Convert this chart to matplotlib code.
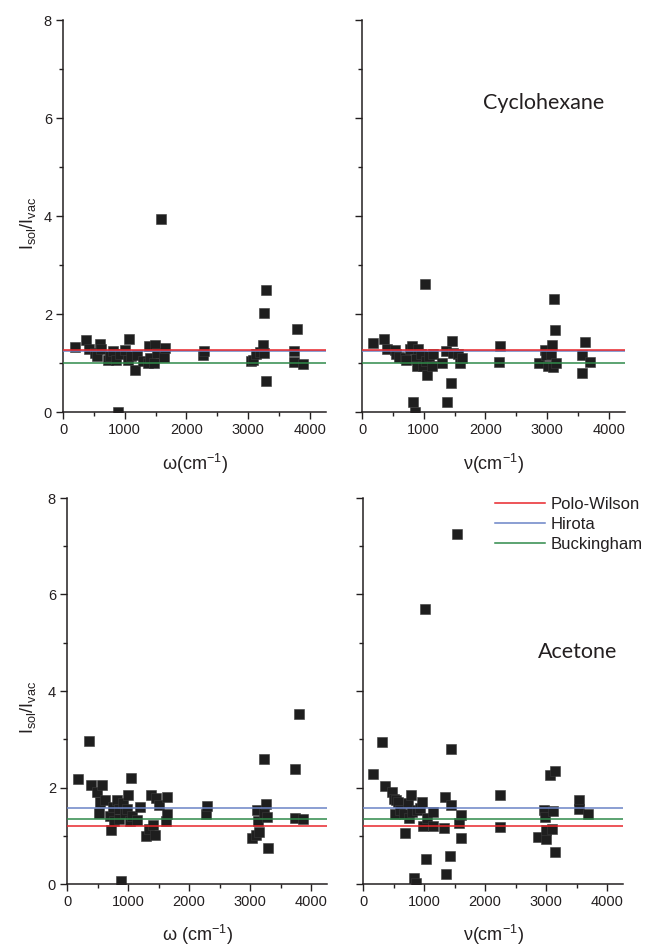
"""
Relative IR intensities (solution / vacuum) for cyclohexane and acetone,
compared with the Polo-Wilson, Hirota and Buckingham cavity-field models.
"""

import matplotlib
matplotlib.use("Agg")
import matplotlib.pyplot as plt
from matplotlib.lines import Line2D
from matplotlib.ticker import MultipleLocator

plt.rcParams.update({
    "font.family": ["Liberation Sans", "DejaVu Sans"],
    "mathtext.fontset": "custom",
    "mathtext.rm": "Liberation Sans",
    "mathtext.default": "regular",
    "text.color": "#231f20",
    "axes.edgecolor": "#231f20",
    "xtick.color": "#231f20",
    "ytick.color": "#231f20",
})

# ── data: cyclohexane, harmonic frequencies (omega) ──────────────────────
cyc_w_x = [190, 379, 421, 513, 557, 594, 622, 729, 756, 810,
           865, 891, 918, 1010, 1053, 1064, 1108, 1173, 1199, 1296,
           1377, 1393, 1416, 1469, 1486, 1523, 1580, 1631, 1648, 2268,
           2280, 3041, 3078, 3133, 3187, 3241, 3252, 3262, 3289, 3289,
           3749, 3749, 3791, 3888]
cyc_w_y = [1.33, 1.46, 1.28, 1.20, 1.14, 1.38, 1.28, 1.07, 1.14, 1.24,
           1.07, 0.00, 1.18, 1.26, 1.07, 1.48, 1.14, 0.86, 1.16, 1.04,
           1.01, 1.35, 1.10, 1.01, 1.37, 1.20, 3.93, 1.12, 1.31, 1.16,
           1.25, 1.04, 1.07, 1.18, 1.22, 1.37, 1.21, 2.03, 2.48, 0.64,
           1.25, 1.03, 1.70, 0.98]

# ── data: cyclohexane, anharmonic frequencies (nu) ───────────────────────
cyc_v_x = [177, 350, 404, 527, 555, 597, 689, 716, 781, 813,
           834, 866, 877, 887, 903, 958, 995, 1027, 1038, 1059,
           1092, 1129, 1156, 1297, 1361, 1371, 1442, 1458, 1468, 1549,
           1592, 1619, 2221, 2232, 2866, 2958, 2974, 3017, 3055, 3081,
           3093, 3114, 3119, 3136, 3565, 3565, 3608, 3689]
cyc_v_y = [1.41, 1.48, 1.28, 1.26, 1.18, 1.13, 1.11, 1.06, 1.28, 1.35,
           0.20, 0.00, 1.08, 0.94, 1.28, 1.18, 0.94, 2.61, 1.04, 0.75,
           1.14, 0.94, 1.18, 1.00, 1.25, 0.20, 0.60, 1.45, 1.21, 1.18,
           1.01, 1.11, 1.02, 1.35, 0.99, 1.26, 1.16, 0.94, 1.18, 1.36,
           0.91, 2.30, 1.67, 1.00, 1.16, 0.79, 1.42, 1.03]

# ── data: acetone, harmonic frequencies (omega) ──────────────────────────
ace_w_x = [180, 361, 399, 492, 524, 536, 580, 618, 711, 716,
           754, 765, 820, 852, 852, 891, 918, 946, 990, 1000,
           1027, 1055, 1072, 1147, 1191, 1289, 1344, 1382, 1409, 1448,
           1464, 1508, 1617, 1639, 1639, 2273, 2295, 3038, 3093, 3120,
           3131, 3147, 3224, 3235, 3257, 3278, 3295, 3732, 3732, 3800,
           3868]
ace_w_y = [2.17, 2.97, 2.05, 1.90, 1.48, 1.69, 2.05, 1.74, 1.41, 1.12,
           1.60, 1.31, 1.75, 1.35, 1.55, 0.07, 1.67, 1.48, 1.55, 1.84,
           1.30, 2.19, 1.41, 1.33, 1.59, 0.99, 1.14, 1.84, 1.22, 1.01,
           1.79, 1.64, 1.31, 1.45, 1.81, 1.45, 1.62, 0.95, 1.02, 1.53,
           1.30, 1.07, 1.48, 2.59, 1.66, 1.38, 0.74, 2.39, 1.37, 3.52,
           1.35]

# ── data: acetone, anharmonic frequencies (nu) ───────────────────────────
ace_v_x = [164, 318, 367, 482, 503, 520, 547, 574, 601, 667,
           683, 737, 754, 793, 809, 830, 864, 885, 929, 973,
           983, 1010, 1039, 1049, 1147, 1147, 1323, 1339, 1355, 1432,
           1437, 1437, 1547, 1568, 1612, 1612, 2240, 2251, 2868, 2967,
           2978, 2995, 3006, 3071, 3104, 3114, 3142, 3142, 3540, 3540,
           3694]
ace_v_y = [2.27, 2.95, 2.04, 1.91, 1.77, 1.46, 1.74, 1.70, 1.53, 1.46,
           1.06, 1.67, 1.36, 1.84, 1.50, 0.13, 0.03, 1.53, 1.57, 1.70,
           1.20, 5.70, 0.51, 1.36, 1.20, 1.50, 1.17, 1.81, 0.20, 0.58,
           1.64, 2.80, 7.25, 1.26, 1.44, 0.96, 1.19, 1.84, 0.98, 1.53,
           1.38, 0.93, 1.12, 2.26, 1.13, 1.51, 2.35, 0.67, 1.75, 1.55,
           1.46]

# model predictions (Polo-Wilson, Hirota, Buckingham)
model_names = ["Polo-Wilson", "Hirota", "Buckingham"]
model_colors = ["#e8262b", "#6b84c6", "#2f8a4a"]
cyc_models = [1.26, 1.24, 1.00]
ace_models = [1.20, 1.58, 1.34]

fig = plt.figure(figsize=(6.55, 9.46), dpi=100)

W, H = 655, 946


def px_axes(left, top, right, bottom):
    return fig.add_axes([left / W, 1 - bottom / H, (right - left) / W, (bottom - top) / H])


panels = [
    (px_axes(63, 20, 326, 412), cyc_w_x, cyc_w_y, cyc_models, r"$\omega$(cm$^{-1}$)"),
    (px_axes(362, 20, 625, 412), cyc_v_x, cyc_v_y, cyc_models, r"$\nu$(cm$^{-1}$)"),
    (px_axes(67, 498, 327, 884), ace_w_x, ace_w_y, ace_models, r"$\omega$ (cm$^{-1}$)"),
    (px_axes(363, 498, 623, 884), ace_v_x, ace_v_y, ace_models, r"$\nu$(cm$^{-1}$)"),
]

for ax, xs, ys, models, xlabel in panels:
    ax.scatter(xs, ys, marker="s", s=52, color="#1e1e1e", edgecolors="#3a3a3a",
               linewidths=0.4, zorder=2, clip_on=True)
    # draw blue first so red sits on top where they overlap
    for idx in (1, 2, 0):
        ax.axhline(models[idx], color=model_colors[idx], lw=1.1, zorder=3)
    ax.set_xlim(0, 4260)
    ax.set_ylim(0, 8)
    ax.xaxis.set_major_locator(MultipleLocator(1000))
    ax.xaxis.set_minor_locator(MultipleLocator(500))
    ax.yaxis.set_major_locator(MultipleLocator(2))
    ax.yaxis.set_minor_locator(MultipleLocator(1))
    ax.tick_params(which="major", direction="out", length=5, width=1.0, labelsize=10.5, pad=3)
    ax.tick_params(which="minor", direction="out", length=3, width=1.0)
    for side in ("top", "right"):
        ax.spines[side].set_visible(False)
    for side in ("left", "bottom"):
        ax.spines[side].set_linewidth(1.1)
    ax.text(0.5, -0.133, xlabel, transform=ax.transAxes, ha="center", va="center", fontsize=13)

# right-hand panels have no y tick labels
panels[1][0].tick_params(labelleft=False)
panels[3][0].tick_params(labelleft=False)

# y labels
fig.text(28 / W, 1 - 223 / H, r"I$_{sol}$/I$_{vac}$", rotation=90, ha="center", va="center", fontsize=13)
fig.text(28 / W, 1 - 707 / H, r"I$_{sol}$/I$_{vac}$", rotation=90, ha="center", va="center", fontsize=13)

# solvent names
panels[1][0].text(2950, 6.3, "Cyclohexane", ha="center", va="center", fontsize=15.5,
                  family=["Lato", "DejaVu Sans"])
panels[3][0].text(3520, 4.8, "Acetone", ha="center", va="center", fontsize=15.5,
                  family=["Lato", "DejaVu Sans"])

# legend in the acetone nu panel
handles = [Line2D([], [], color=c, lw=1.1) for c in model_colors]
fig.legend(handles, model_names, loc="upper left", bbox_to_anchor=(495 / W, 1 - 497 / H),
           frameon=False, fontsize=12, handlelength=3.0, handletextpad=0.35,
           labelspacing=0.3, borderpad=0, borderaxespad=0)

fig.savefig("out.png", dpi=100)
plt.close(fig)
